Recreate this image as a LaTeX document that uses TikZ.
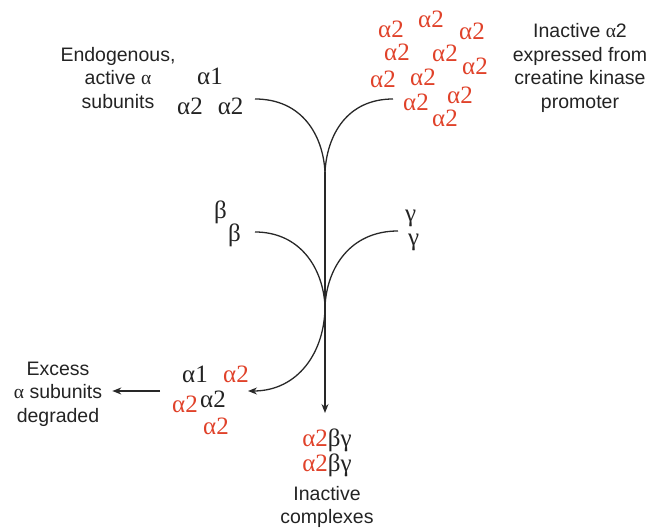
\documentclass[tikz,border=0pt]{standalone}
\usepackage{fontspec}
\setmainfont{Liberation Sans}
\newfontfamily\grk{Liberation Serif}
\usetikzlibrary{arrows.meta}
\definecolor{redc}{RGB}{224,66,42}
\definecolor{linec}{RGB}{40,40,40}
\definecolor{txtc}{RGB}{35,35,35}
\begin{document}
\begin{tikzpicture}[x=1pt,y=-1pt,
  lab/.style={font=\fontsize{19.5}{23.5}\selectfont, align=center, text=txtc, inner sep=0pt},
  gk/.style={font=\grk\fontsize{25}{27}\selectfont, inner sep=0pt, anchor=base west, text=txtc},
  rd/.style={gk, text=redc, text depth=0pt, text height=16pt},
  ln/.style={draw=linec, line width=1.3pt},
  arr/.style={ln, -{Stealth[length=9pt,width=7pt]}}]
\useasboundingbox (0,0) rectangle (649,529);

% top-left label and subunits
\node[lab] (endo) at (118,78) {Endogenous,\\active {\grk α}\\subunits};
\node[gk] (a1) at (197,85) {α1};
\node[gk] (a2a2) at (177,115) {α2\hspace{15pt}α2};

% top-right label and red cluster
\node[lab] (inact) at (580,68) {Inactive {\grk α}2\\expressed from\\creatine kinase\\promoter};
\node[rd] (r1) at (378,38) {α2};
\node[rd] (r2) at (418,28) {α2};
\node[rd] (r3) at (459,40) {α2};
\node[rd] (r4) at (384,61) {α2};
\node[rd] (r5) at (432,62) {α2};
\node[rd] (r6) at (462,75) {α2};
\node[rd] (r7) at (370,88) {α2};
\node[rd] (r8) at (410,86) {α2};
\node[rd] (r9) at (403,111) {α2};
\node[rd] (r10) at (447,104) {α2};
\node[rd] (r11) at (432,127) {α2};

% beta and gamma
\node[gk] (b1) at (214,219) {β};
\node[gk] (b2) at (228,242) {β};
\node[gk] (g1) at (405,222) {γ};
\node[gk] (g2) at (408,246) {γ};

% connectors
\coordinate (s1) at (255,99);
\coordinate (s2) at (393,99);
\coordinate (m1) at (325,172);
\coordinate (s3) at (255,232);
\coordinate (s4) at (398,231);
\coordinate (m2) at (325,306);
\coordinate (tipD) at (325,413);
\coordinate (tipL) at (248,391);
\coordinate (la) at (160,391);

\draw[ln] (s1) .. controls (302,99) and (323,135) .. (m1);
\draw[ln] (s2) .. controls (347,99) and (327,135) .. (m1);
\draw[ln] (s3) .. controls (300,232) and (323,268) .. (m2);
\draw[ln] (s4) .. controls (350,231) and (327,268) .. (m2);
\draw[arr] (m1) -- (tipD);
\draw[arr] (m2) .. controls (325,352) and (298,391) .. (tipL);

% bottom-left
\node[gk] (c1) at (182,383) {α1};
\node[rd] (c2) at (223,383) {α2};
\node[rd] (c3) at (172,413) {α2};
\node[gk] (c4) at (200,408) {α2};
\node[rd] (c5) at (203,435) {α2};
\node[lab] (excess) at (58,394) {Excess\\{\grk α} subunits\\degraded};
\draw[arr] (la) -- ([xshift=10pt]excess.east |- la);

% bottom center
\node[gk, anchor=base] (k1) at (327,447) {\textcolor{redc}{α2}βγ};
\node[gk, anchor=base] (k2) at (327,472) {\textcolor{redc}{α2}βγ};
\node[lab] (compl) at (327,507) {Inactive\\complexes};
\end{tikzpicture}
\end{document}
